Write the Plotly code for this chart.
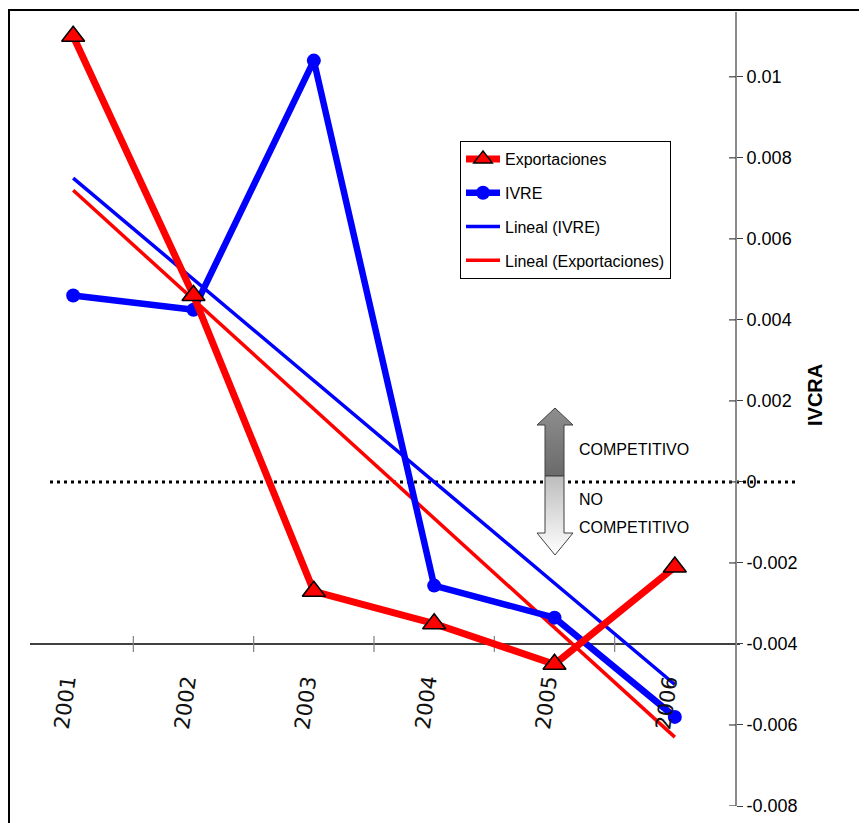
import plotly.graph_objects as go

# ---------------- data ----------------
years = ["2001", "2002", "2003", "2004", "2005", "2006"]
exportaciones = [0.0110, 0.0046, -0.0027, -0.0035, -0.0045, -0.0021]
ivre = [0.0046, 0.00425, 0.0104, -0.00256, -0.00335, -0.0058]
trend_years = ["2001", "2006"]
lineal_ivre = [0.0075, -0.0050]
lineal_exp = [0.0072, -0.0063]
y_tickvals = [0.01, 0.008, 0.006, 0.004, 0.002, 0, -0.002, -0.004, -0.006, -0.008]
y_ticktext = ["0.01", "0.008", "0.006", "0.004", "0.002", "0", "-0.002", "-0.004", "-0.006", "-0.008"]

W, H = 867, 823
OFF = 8  # page body margin
L, T = 13 - OFF, 12 - OFF
PW, PH = 722, 794
R, B = W - L - PW, H - T - PH


def px(x):
    return (x - OFF - L) / PW


def py(y):
    return (T + PH - (y - OFF)) / PH


ARIAL = "Liberation Sans, Arial, sans-serif"

fig = go.Figure()

fig.add_trace(go.Scatter(x=trend_years, y=lineal_ivre, mode="lines", name="Lineal (IVRE)",
                         line=dict(color="#0000ff", width=3.5), legendrank=3, legendgroup="c"))
fig.add_trace(go.Scatter(x=trend_years, y=lineal_exp, mode="lines", name="Lineal (Exportaciones)",
                         line=dict(color="#ff0000", width=3.5), legendrank=4, legendgroup="d"))
fig.add_trace(go.Scatter(x=years, y=ivre, mode="lines+markers", name="IVRE",
                         line=dict(color="#0000ff", width=6.5),
                         marker=dict(symbol="circle", size=14, color="#0000ff"),
                         legendrank=2, legendgroup="b"))
fig.add_trace(go.Scatter(x=years, y=exportaciones, mode="lines+markers", name="Exportaciones",
                         line=dict(color="#ff0000", width=7),
                         marker=dict(symbol="triangle-up", size=20, color="#ff0000",
                                     line=dict(color="black", width=1.5)),
                         legendrank=1, legendgroup="a"))

# arrow (paper-like overlay axes)
top_pts = [(555, 408), (573, 425), (564, 425), (564, 476), (545, 476), (545, 425), (537, 425), (555, 408)]
bot_pts = [(545, 476), (564, 476), (564, 533), (573, 533), (555, 555), (537, 533), (545, 533), (545, 476)]
fig.add_trace(go.Scatter(x=[px(a) for a, b in top_pts], y=[py(b) for a, b in top_pts],
                         xaxis="x2", yaxis="y2", mode="lines", fill="toself",
                         line=dict(color="#404040", width=1),
                         fillgradient=dict(type="vertical", colorscale=[[0, "#6a6a6a"], [1, "#8e8e8e"]]),
                         showlegend=False, hoverinfo="skip"))
fig.add_trace(go.Scatter(x=[px(a) for a, b in bot_pts], y=[py(b) for a, b in bot_pts],
                         xaxis="x2", yaxis="y2", mode="lines", fill="toself",
                         line=dict(color="#404040", width=1),
                         fillgradient=dict(type="vertical", colorscale=[[0, "#ffffff"], [1, "#bdbdbd"]]),
                         showlegend=False, hoverinfo="skip"))

shapes = []
# zero dotted line
shapes.append(dict(type="line", xref="paper", yref="y", x0=px(50), x1=px(795), y0=0, y1=0,
                   line=dict(color="black", width=3, dash="3px,4px"), layer="below"))
# category axis crossing at -0.004
shapes.append(dict(type="line", xref="paper", yref="y", x0=px(30), x1=px(740), y0=-0.004, y1=-0.004,
                   line=dict(color="black", width=1.5), layer="below"))
for b in [0.5, 1.5, 2.5, 3.5, 4.5]:
    shapes.append(dict(type="line", xref="x", yref="y", x0=b, x1=b,
                       ysizemode="pixel", yanchor=-0.004, y0=-8, y1=8,
                       line=dict(color="#808080", width=1.2), layer="below"))
# inside half of the crossing value-axis ticks
for v in y_tickvals:
    shapes.append(dict(type="line", xref="paper", yref="y", x0=px(729), x1=px(736), y0=v, y1=v,
                       line=dict(color="#404040", width=1.2)))
# chart border
shapes.append(dict(type="rect", xref="paper", yref="paper", x0=px(9), x1=px(900), y0=py(10), y1=py(850),
                   line=dict(color="black", width=2), fillcolor="rgba(0,0,0,0)"))

annotations = []
for i, yr in enumerate(years):
    annotations.append(dict(x=i, xref="x", y=py(703), yref="paper", text=yr, showarrow=False,
                            textangle=-82, xshift=-8, xanchor="center", yanchor="middle",
                            font=dict(family="DejaVu Sans", size=21, color="#111111")))
for txt, yy in [("COMPETITIVO", 450), ("NO", 500), ("COMPETITIVO", 528)]:
    annotations.append(dict(x=px(577), y=py(yy), xref="paper", yref="paper", text=txt,
                            showarrow=False, xanchor="left", yanchor="middle",
                            font=dict(family=ARIAL, size=16, color="black")))
annotations.append(dict(x=px(815), y=py(395), xref="paper", yref="paper", text="<b>IVCRA</b>",
                        showarrow=False, textangle=-90, xanchor="center", yanchor="middle",
                        font=dict(family=ARIAL, size=20, color="black")))

fig.update_layout(
    width=W, height=H,
    margin=dict(l=L, r=R, t=T, b=B, pad=0),
    paper_bgcolor="white", plot_bgcolor="white",
    showlegend=True,
    legend=dict(x=px(460), y=py(141), xanchor="left", yanchor="top",
                bgcolor="white", bordercolor="black", borderwidth=1,
                font=dict(family=ARIAL, size=16, color="black"),
                traceorder="grouped", tracegroupgap=10, itemwidth=34),
    xaxis=dict(type="category", categoryorder="array", categoryarray=years,
               range=[-0.5, 5.5], showticklabels=False, showline=False,
               showgrid=False, zeroline=False, ticks=""),
    yaxis=dict(side="right", range=[-0.008, 0.0116], tickvals=y_tickvals, ticktext=y_ticktext,
               showline=True, linecolor="#8c8c8c", linewidth=2, ticks="outside", ticklen=6,
               tickcolor="#404040", tickwidth=1.2, showgrid=False, zeroline=False,
               tickfont=dict(family=ARIAL, size=18, color="black")),
    xaxis2=dict(overlaying="x", range=[0, 1], visible=False, anchor="y2"),
    yaxis2=dict(overlaying="y", range=[0, 1], visible=False, anchor="x2"),
    shapes=shapes, annotations=annotations,
)

fig.write_html("out.html")
